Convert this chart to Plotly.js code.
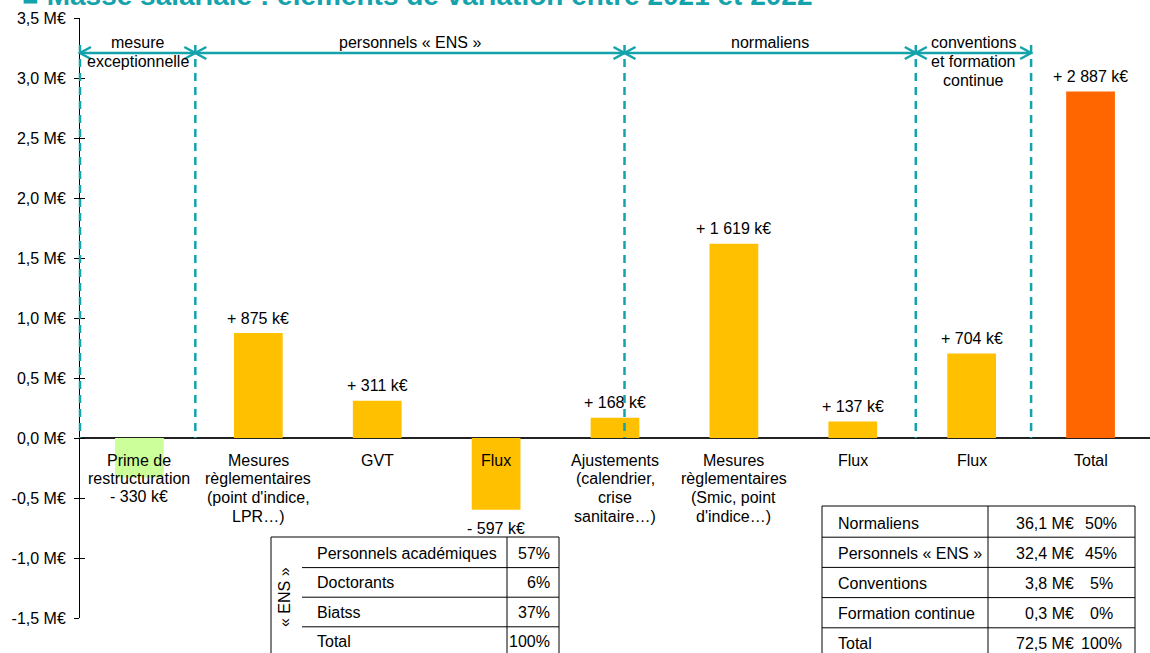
<!DOCTYPE html>
<html>
<head>
<meta charset="utf-8">
<script src="https://cdn.plot.ly/plotly-3.0.1.min.js"></script>
<style>html,body{margin:0;padding:0;background:#fff;}#chart{width:1150px;height:653px;}</style>
</head>
<body>
<div id="chart"></div>
<script>
// ---------- DATA ----------
const categories = ['prime', 'mesuresENS', 'gvt', 'fluxENS', 'ajustements', 'mesuresNorm', 'fluxNorm', 'fluxConv', 'total'];
const categoryLabels = [
  ['Prime de', 'restructuration'],
  ['Mesures', 'règlementaires', "(point d'indice,", 'LPR…)'],
  ['GVT'],
  ['Flux'],
  ['Ajustements', '(calendrier,', 'crise', 'sanitaire…)'],
  ['Mesures', 'règlementaires', '(Smic, point', "d'indice…)"],
  ['Flux'],
  ['Flux'],
  ['Total']
];
const valuesMEUR = [-0.330, 0.875, 0.311, -0.597, 0.168, 1.619, 0.137, 0.704, 2.887];
const valueLabels = ['- 330 k€', '+ 875 k€', '+ 311 k€', '- 597 k€', '+ 168 k€', '+ 1 619 k€', '+ 137 k€', '+ 704 k€', '+ 2 887 k€'];
const barColors = ['#CCFF99', '#FFC000', '#FFC000', '#FFC000', '#FFC000', '#FFC000', '#FFC000', '#FFC000', '#FF6600'];

const yTickVals = [-1.5, -1.0, -0.5, 0, 0.5, 1.0, 1.5, 2.0, 2.5, 3.0, 3.5];
const yTickText = ['-1,5 M€', '-1,0 M€', '-0,5 M€', '0,0 M€', '0,5 M€', '1,0 M€', '1,5 M€', '2,0 M€', '2,5 M€', '3,0 M€', '3,5 M€'];

const groupNames = [['mesure', 'exceptionnelle'], ['personnels « ENS »'], ['normaliens'], ['conventions', 'et formation', 'continue']];
const groupEdges = [-0.5, 0.47, 4.08, 6.53, 7.5]; // in category units

const ensRows = ['Personnels académiques', 'Doctorants', 'Biatss', 'Total'];
const ensShares = ['57%', '6%', '37%', '100%'];
const staffRows = ['Normaliens', 'Personnels « ENS »', 'Conventions', 'Formation continue', 'Total'];
const staffAmounts = ['36,1 M€', '32,4 M€', '3,8 M€', '0,3 M€', '72,5 M€'];
const staffShares = ['50%', '45%', '5%', '0%', '100%'];

const titleText = '■ Masse salariale : éléments de variation entre 2021 et 2022';

// ---------- LAYOUT HELPERS ----------
const FONT = 'Liberation Sans, Arial, sans-serif';
const TEAL = '#14A3AB';
const L = 80, W = 1070, T = 18, H = 600;
const xp = px => (px - L) / W;
const yp = py => (T + H - py) / H;
const cp = c => (c + 0.5) / categories.length;
const cpx = c => L + cp(c) * W;

const annotations = [];
const shapes = [];

// title
annotations.push({
  xref: 'paper', yref: 'paper', x: xp(20), y: 1, xanchor: 'left', yanchor: 'middle', yshift: 22.5,
  text: '<b>' + titleText + '</b>', showarrow: false, font: {family: FONT, size: 28, color: TEAL}
});

// category labels (each line separately)
categories.forEach((c, i) => {
  categoryLabels[i].forEach((line, j) => {
    annotations.push({
      x: c, y: 0, xref: 'x', yref: 'y', xanchor: 'center', yanchor: 'middle',
      yshift: -(22 + 18.7 * j), text: line, showarrow: false,
      font: {family: FONT, size: 16, color: '#000'}
    });
  });
  const v = valuesMEUR[i];
  annotations.push({
    x: c, y: v, xref: 'x', yref: 'y', xanchor: 'center', yanchor: 'middle',
    yshift: v >= 0 ? 15 : -19, text: valueLabels[i], showarrow: false,
    font: {family: FONT, size: 16, color: '#000'}
  });
});

// group separators, arrows, labels
const arrowY = 53;
groupEdges.forEach(e => {
  shapes.push({type: 'line', xref: 'paper', yref: 'paper', x0: cp(e), x1: cp(e), y0: yp(45), y1: yp(438),
    line: {color: TEAL, width: 2.5, dash: '8px,6px'}});
});
const chev = (tipPx, dir) => {
  const bx = tipPx + dir * 11;
  return 'M ' + xp(bx) + ',' + yp(arrowY - 6) + ' L ' + xp(tipPx) + ',' + yp(arrowY) + ' L ' + xp(bx) + ',' + yp(arrowY + 6);
};
for (let g = 0; g < groupNames.length; g++) {
  const a = cpx(groupEdges[g]), b = cpx(groupEdges[g + 1]);
  shapes.push({type: 'line', xref: 'paper', yref: 'paper', x0: xp(a), x1: xp(b), y0: yp(arrowY), y1: yp(arrowY),
    line: {color: TEAL, width: 2.5}});
  shapes.push({type: 'path', xref: 'paper', yref: 'paper', path: chev(a, 1), line: {color: TEAL, width: 2.5}});
  shapes.push({type: 'path', xref: 'paper', yref: 'paper', path: chev(b, -1), line: {color: TEAL, width: 2.5}});
  groupNames[g].forEach((t, j) => {
    annotations.push({xref: 'paper', yref: 'paper', x: xp((a + b) / 2), y: yp(42 + 19.5 * j), xanchor: 'center', yanchor: 'middle',
      text: t, showarrow: false, font: {family: FONT, size: 16, color: '#000'}});
  });
}

// ---------- TABLES ----------
const ln = (x0, y0, x1, y1) => ({type: 'line', xref: 'paper', yref: 'paper', x0: xp(x0), x1: xp(x1), y0: yp(y0), y1: yp(y1),
  line: {color: '#000', width: 1}});
const txt = (x, y, t, anchor) => ({xref: 'paper', yref: 'paper', x: xp(x), y: yp(y), xanchor: anchor, yanchor: 'middle',
  text: t, showarrow: false, font: {family: FONT, size: 16, color: '#000'}});

// left table (ENS staff split)
const lt = {x0: 271, x1: 559, sep: 507, inner: 302, top: 537, rowH: 29.6, bottom: 670};
shapes.push(ln(lt.x0, lt.top, lt.x1, lt.top));
shapes.push(ln(lt.x0, lt.top, lt.x0, lt.bottom));
shapes.push(ln(lt.x1, lt.top, lt.x1, lt.bottom));
shapes.push(ln(lt.sep, lt.top, lt.sep, lt.bottom));
ensRows.forEach((r, i) => {
  const cy = lt.top + 16 + i * lt.rowH;
  if (i > 0) shapes.push(ln(lt.inner, lt.top + i * lt.rowH + 1, lt.x1, lt.top + i * lt.rowH + 1));
  annotations.push(txt(315, cy, r, 'left'));
  annotations.push(txt(552, cy, ensShares[i], 'right'));
});
annotations.push(Object.assign(txt(284, 597, '« ENS »', 'center'), {textangle: -90}));

// right table (total payroll split)
const rt = {x0: 822, x1: 1135, sep: 988, top: 506, rowH: 30.2, bottom: 670};
shapes.push(ln(rt.x0, rt.top, rt.x1, rt.top));
shapes.push(ln(rt.x0, rt.top, rt.x0, rt.bottom));
shapes.push(ln(rt.x1, rt.top, rt.x1, rt.bottom));
shapes.push(ln(rt.sep, rt.top, rt.sep, rt.bottom));
staffRows.forEach((r, i) => {
  const cy = rt.top + 17 + i * rt.rowH;
  if (i > 0) shapes.push(ln(rt.x0, rt.top + i * rt.rowH + 1, rt.x1, rt.top + i * rt.rowH + 1));
  annotations.push(txt(836, cy, r, 'left'));
  annotations.push(txt(1076, cy, staffAmounts[i], 'right'));
  annotations.push(txt(1101, cy, staffShares[i], 'center'));
});

// ---------- TRACES ----------
const traces = [
  {type: 'bar', x: categories, y: valuesMEUR, marker: {color: barColors, line: {width: 0}}, width: 0.41,
   hoverinfo: 'skip', showlegend: false},
  {type: 'scatter', x: [], y: [], yaxis: 'y2', showlegend: false, hoverinfo: 'skip'}
];

const layout = {
  width: 1150, height: 653,
  margin: {l: L, r: 1150 - L - W, t: T, b: 653 - T - H, pad: 0},
  paper_bgcolor: '#fff', plot_bgcolor: 'rgba(0,0,0,0)',
  showlegend: false,
  font: {family: FONT, size: 16, color: '#000'},
  xaxis: {type: 'category', range: [-0.5, 8.5], showticklabels: false, ticks: '', showline: false, showgrid: false,
    zeroline: false, fixedrange: true},
  yaxis: {range: [-1.5, 3.5], tickvals: yTickVals, ticktext: yTickText, ticks: 'outside', ticklen: 5, tickwidth: 1,
    tickcolor: '#000', showline: true, linecolor: '#000', linewidth: 1, showgrid: false,
    zeroline: true, zerolinecolor: '#222', zerolinewidth: 1.5, ticklabelstandoff: 5,
    tickfont: {family: FONT, size: 16, color: '#000'}, fixedrange: true},
  yaxis2: {overlaying: 'y', side: 'left', anchor: 'x', range: [-1.5, 3.5], tickvals: yTickVals, ticks: 'inside', ticklen: 5,
    tickwidth: 1, tickcolor: '#000', showticklabels: false, showline: false, showgrid: false, zeroline: false, fixedrange: true},
  shapes: shapes,
  annotations: annotations
};

Plotly.newPlot('chart', traces, layout, {displayModeBar: false, staticPlot: true});
</script>
</body>
</html>
